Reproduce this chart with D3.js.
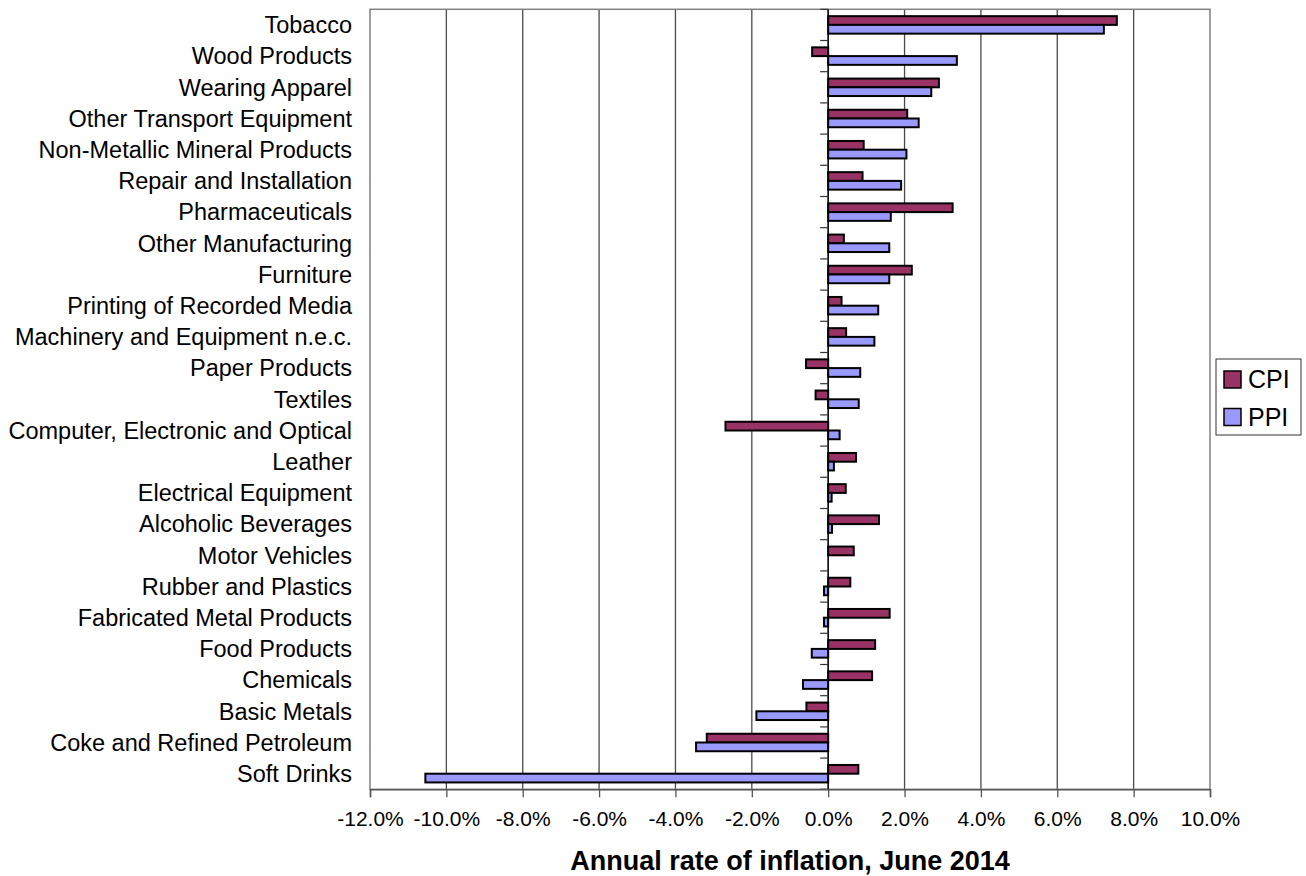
<!DOCTYPE html>
<html>
<head>
<meta charset="utf-8">
<script src="https://cdn.jsdelivr.net/npm/d3@7"></script>
<style>
  html, body { margin: 0; padding: 0; background: #fff; }
  svg { display: block; }
  text { font-family: "Liberation Sans", Arial, sans-serif; fill: #000; }
</style>
</head>
<body>
<svg id="chart" width="1306" height="876"></svg>
<script>
const categories = [
  "Tobacco", "Wood Products", "Wearing Apparel", "Other Transport Equipment",
  "Non-Metallic Mineral Products", "Repair and Installation", "Pharmaceuticals",
  "Other Manufacturing", "Furniture", "Printing of Recorded Media",
  "Machinery and Equipment n.e.c.", "Paper Products", "Textiles",
  "Computer, Electronic and Optical", "Leather", "Electrical Equipment",
  "Alcoholic Beverages", "Motor Vehicles", "Rubber and Plastics",
  "Fabricated Metal Products", "Food Products", "Chemicals", "Basic Metals",
  "Coke and Refined Petroleum", "Soft Drinks"
];
const cpi = [7.56, -0.42, 2.90, 2.07, 0.93, 0.90, 3.26, 0.41, 2.19, 0.35, 0.47, -0.58, -0.33,
             -2.69, 0.73, 0.46, 1.33, 0.67, 0.58, 1.61, 1.23, 1.15, -0.57, -3.18, 0.79];
const ppi = [7.22, 3.37, 2.70, 2.37, 2.05, 1.91, 1.64, 1.60, 1.60, 1.31, 1.21, 0.84, 0.80,
             0.30, 0.15, 0.09, 0.10, 0.00, -0.11, -0.11, -0.43, -0.66, -1.88, -3.46, -10.55];
const seriesNames = ["CPI", "PPI"];
const seriesColors = ["#993366", "#9999FF"];
const xTicks = [-12, -10, -8, -6, -4, -2, 0, 2, 4, 6, 8, 10];
const xTitle = "Annual rate of inflation, June 2014";

const svg = d3.select("#chart");
const L = 370, R = 1210, T = 9.3, B = 789.3;

const x = d3.scaleLinear().domain([-12, 10]).range([L, R]);
const yBand = d3.scaleBand().domain(categories).range([T, B]).paddingInner(0.44).paddingOuter(0.22);
const yStep = d3.scaleBand().domain(categories).range([T, B]).padding(0);
const ySub = d3.scaleBand().domain(seriesNames).range([0, yBand.bandwidth()]);

// gridlines
svg.append("g").selectAll("line").data(xTicks.filter(t => t > -12 && t < 10)).join("line")
  .attr("x1", d => x(d)).attr("x2", d => x(d)).attr("y1", T).attr("y2", B)
  .attr("stroke", "#4a4a4a").attr("stroke-width", 1.3);

// plot border
svg.append("rect").attr("x", L).attr("y", T).attr("width", R - L).attr("height", B - T)
  .attr("fill", "none").attr("stroke", "#808080").attr("stroke-width", 1.5);

// bars
const data = categories.map((c, i) => [
  { cat: c, s: "CPI", v: cpi[i] },
  { cat: c, s: "PPI", v: ppi[i] }
]).flat();

svg.append("g").selectAll("rect").data(data.filter(d => d.v !== 0)).join("rect")
  .attr("x", d => x(Math.min(0, d.v)))
  .attr("width", d => Math.abs(x(d.v) - x(0)))
  .attr("y", d => yBand(d.cat) + ySub(d.s))
  .attr("height", ySub.bandwidth())
  .attr("fill", d => seriesColors[seriesNames.indexOf(d.s)])
  .attr("stroke", "#000").attr("stroke-width", 2);

// y axis line at zero with ticks on category boundaries
const yAxisG = svg.append("g");
yAxisG.append("line").attr("x1", x(0)).attr("x2", x(0)).attr("y1", T).attr("y2", B)
  .attr("stroke", "#000").attr("stroke-width", 1.3);
yAxisG.selectAll("line.tk").data(d3.range(categories.length + 1)).join("line").attr("class", "tk")
  .attr("x1", x(0) - 8).attr("x2", x(0))
  .attr("y1", i => T + i * yStep.step()).attr("y2", i => T + i * yStep.step())
  .attr("stroke", "#333").attr("stroke-width", 1.2);

// category labels
svg.append("g").selectAll("text").data(categories).join("text")
  .attr("x", 352).attr("y", d => yStep(d) + yStep.bandwidth() / 2)
  .attr("dy", "0.35em").attr("text-anchor", "end")
  .style("font-size", "23.5px").text(d => d);

// x axis
const xAxis = d3.axisBottom(x).tickValues(xTicks).tickSize(8)
  .tickFormat(d => d.toFixed(1) + "%");
const xg = svg.append("g").attr("transform", `translate(0,${B})`).call(xAxis);
xg.select(".domain").attr("stroke", "#555").attr("stroke-width", 1.5);
xg.selectAll(".tick line").attr("stroke", "#555").attr("stroke-width", 1.3);
xg.selectAll(".tick text").attr("y", 37).attr("dy", 0)
  .style("font-size", "21px").style("font-family", "'Liberation Sans', Arial, sans-serif").attr("fill", "#000");

// x title
svg.append("text").attr("x", (L + R) / 2).attr("y", 870).attr("text-anchor", "middle")
  .style("font-size", "27px").style("font-weight", "bold").text(xTitle);

// legend
const lg = svg.append("g");
lg.append("rect").attr("x", 1216).attr("y", 359).attr("width", 85).attr("height", 76)
  .attr("fill", "#fff").attr("stroke", "#333").attr("stroke-width", 1);
seriesNames.forEach((s, i) => {
  lg.append("rect").attr("x", 1224).attr("y", 371 + i * 37.5).attr("width", 17).attr("height", 17)
    .attr("fill", seriesColors[i]).attr("stroke", "#000").attr("stroke-width", 1.5);
  lg.append("text").attr("x", 1248).attr("y", 388 + i * 37.5)
    .style("font-size", "25px").text(s);
});
</script>
</body>
</html>
